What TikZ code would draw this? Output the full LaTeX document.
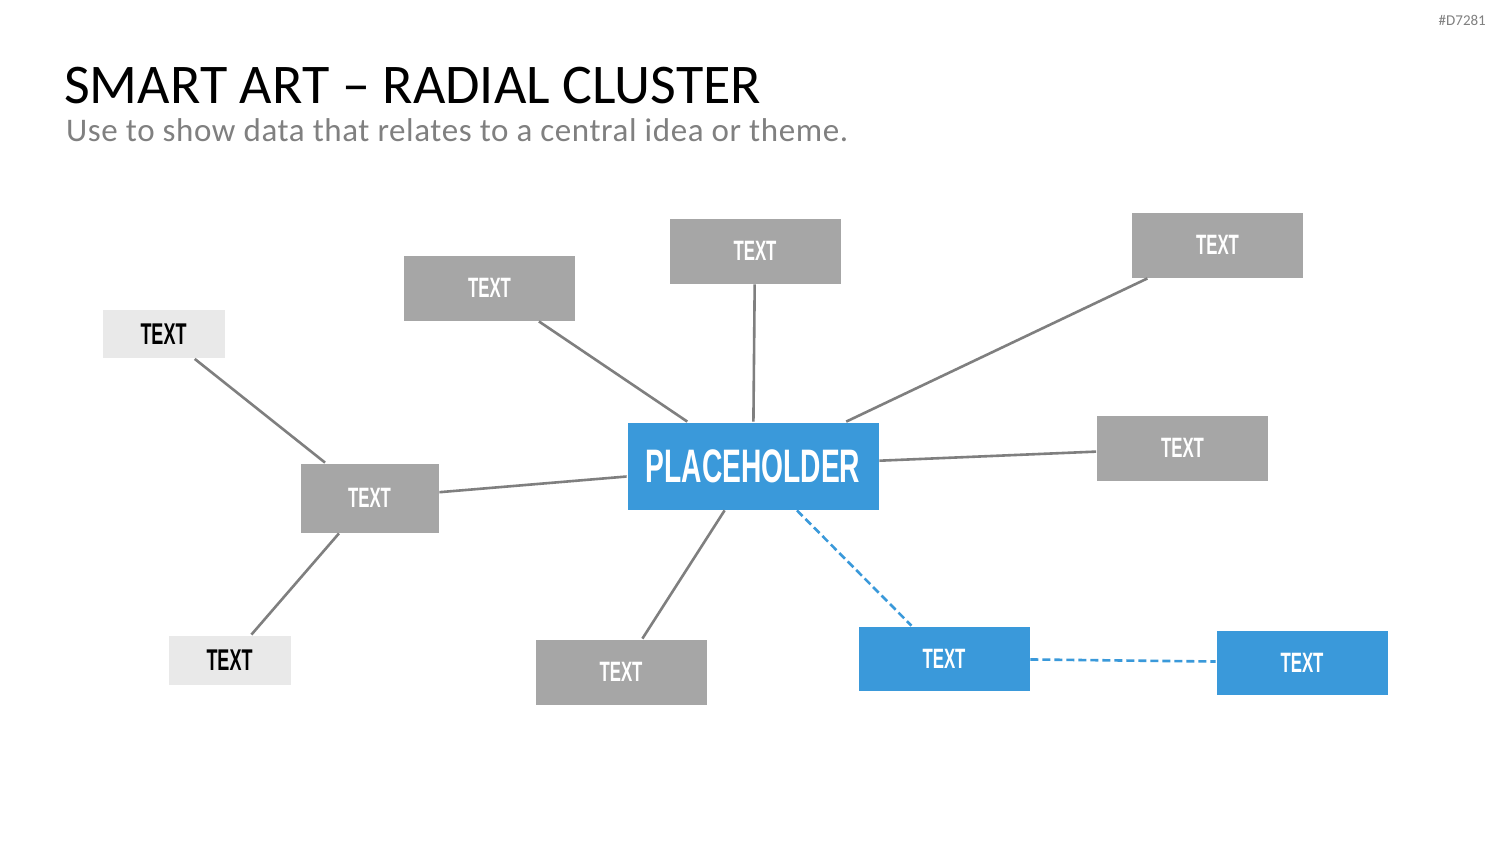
\documentclass[tikz,border=0pt]{standalone}
\usepackage{fontspec}
\setmainfont{Carlito}
\newfontfamily\boxfont{Liberation Sans}[FakeStretch=0.6]
\usetikzlibrary{positioning}
\definecolor{boxgray}{HTML}{A6A6A6}
\definecolor{boxlight}{HTML}{E9E9E9}
\definecolor{boxblue}{HTML}{3A99DA}
\definecolor{linegray}{HTML}{7F7F7F}
\definecolor{subgray}{HTML}{808080}

\begin{document}
\begin{tikzpicture}[
  x=1pt, y=-1pt,
  item/.style={fill=#1, draw=white, line width=0.8pt, inner sep=0pt,
    minimum width=172pt, minimum height=66pt, text=white,
    font=\boxfont\bfseries\fontsize{28}{28}\selectfont},
  leaf/.style={item=boxlight, minimum width=123pt, minimum height=49pt,
    text=black, font=\boxfont\bfseries\fontsize{30}{30}\selectfont},
  link/.style={line width=2.6pt, linegray},
  blink/.style={line width=2.6pt, boxblue, dash pattern=on 8pt off 4pt},
]

% Canvas
\useasboundingbox (0,0) rectangle (1500,844);
\fill[white] (0,0) rectangle (1500,844);

% Heading
\node[anchor=base east, inner sep=0pt, font=\fontsize{15}{15}\selectfont, text=subgray] (tag) at (1486,25) {\#D7281};
\node[anchor=base west, inner sep=0pt, font=\fontsize{56}{56}\selectfont] (title) at (64,103)
  {SMART ART -- RADIAL CLUSTER};
\node[anchor=base west, inner sep=0pt, font=\fontsize{33}{33}\selectfont, text=subgray] (subtitle) at (66,141)
  {\addfontfeature{LetterSpace=1.8}Use to show data that relates to a central idea or theme.};

% =============================================
% Nodes
% =============================================
\node[item=boxblue, minimum width=252pt, minimum height=88pt,
  font=\boxfont\bfseries\fontsize{47}{47}\selectfont] (hub) at (753,466) {PLACEHOLDER};

\node[item=boxgray] (top1) at (489.5,288) {TEXT};
\node[item=boxgray] (top2) at (755,251) {TEXT};
\node[item=boxgray] (top3) at (1217.5,245) {TEXT};
\node[item=boxgray] (right) at (1182.5,448) {TEXT};
\node[item=boxgray] (bottom) at (621,672) {TEXT};
\node[item=boxgray, minimum width=139pt, minimum height=70pt] (left) at (369.5,498) {TEXT};

\node[leaf] (leafup) at (163.5,334) {TEXT};
\node[leaf, minimum height=50pt] (leafdown) at (229.5,660) {TEXT};

\node[item=boxblue, minimum height=65pt] (blue1) at (944,658.5) {TEXT};
\node[item=boxblue, minimum height=65pt] (blue2) at (1302,662.5) {TEXT};

% =============================================
% Connectors
% =============================================
\draw[link] (hub) -- (top1);
\draw[link] (hub) -- (top2);
\draw[link] (hub) -- (top3);
\draw[link] (hub) -- (right);
\draw[link] (hub) -- (bottom);
\draw[link] (hub) -- (left);
\draw[link] (left) -- (leafup);
\draw[link] (left) -- (leafdown);

\draw[blink] (hub) -- (blue1);
\draw[blink] (blue1) -- (blue2);

\end{tikzpicture}
\end{document}
